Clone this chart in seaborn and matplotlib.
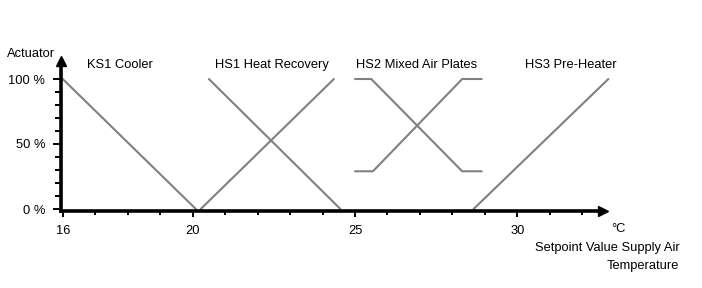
import matplotlib
matplotlib.use("Agg")
import matplotlib.pyplot as plt
import seaborn as sns
import pandas as pd
import numpy as np

# ---- data ----
ks1_x = [16.0, 20.1]
ks1_y = [100, 0]
hs1_rise_x = [20.25, 24.35]
hs1_rise_y = [0, 100]
hs1_fall_x = [20.5, 24.55]
hs1_fall_y = [100, 0]
hs2_fall_x = [25.0, 25.5, 28.3, 28.9]
hs2_fall_y = [100, 100, 29, 29]
hs2_rise_x = [25.0, 25.55, 28.3, 28.9]
hs2_rise_y = [29, 29, 100, 100]
hs3_x = [28.65, 32.8]
hs3_y = [0, 100]

x_major = [16, 20, 25, 30]
x_major_labels = ["16", "20", "25", "30"]
x_minor = list(range(17, 33))
y_major = [0, 50, 100]
y_major_labels = ["0 %", "50 %", "100 %"]
y_minor = [10, 20, 30, 40, 60, 70, 80, 90]

series_names = ["KS1 Cooler", "HS1 Heat Recovery", "HS2 Mixed Air Plates", "HS3 Pre-Heater"]

segments = {
    "ks1": (ks1_x, ks1_y),
    "hs1_rise": (hs1_rise_x, hs1_rise_y),
    "hs1_fall": (hs1_fall_x, hs1_fall_y),
    "hs2_fall": (hs2_fall_x, hs2_fall_y),
    "hs2_rise": (hs2_rise_x, hs2_rise_y),
    "hs3": (hs3_x, hs3_y),
}
rows = []
for name, (xs, ys) in segments.items():
    for i, (xv, yv) in enumerate(zip(xs, ys)):
        rows.append({"seg": name, "order": i, "x": xv, "y": yv})
df = pd.DataFrame(rows)

# ---- style ----
sns.set_theme(style="white")
plt.rcParams["font.family"] = ["Liberation Sans", "DejaVu Sans"]
FS = 9.3

W, H = 702, 288
fig = plt.figure(figsize=(W / 100, H / 100), dpi=100)

# pixel layout
px_per_x = 32.48
x16_px = 62.7
y0_px = 209.0
px_per_pct = 1.30
xlim = (15.94, 33.0)
ylim = (-1.5, 118.0)
left_px = x16_px + (xlim[0] - 16) * px_per_x
right_px = x16_px + (xlim[1] - 16) * px_per_x
bottom_px = y0_px - ylim[0] * px_per_pct
top_px = y0_px - ylim[1] * px_per_pct
ax = fig.add_axes([left_px / W, (H - bottom_px) / H,
                   (right_px - left_px) / W, (bottom_px - top_px) / H])

palette = {k: "#808080" for k in segments}
sns.lineplot(data=df, x="x", y="y", hue="seg", palette=palette, sort=False,
             estimator=None, legend=False, linewidth=1.5, ax=ax)

ax.set_xlim(*xlim)
ax.set_ylim(*ylim)
ax.set_xlabel("")
ax.set_ylabel("")

for s in ["top", "right"]:
    ax.spines[s].set_visible(False)
for s in ["left", "bottom"]:
    ax.spines[s].set_linewidth(2.6)
    ax.spines[s].set_color("black")
ax.spines["bottom"].set_bounds(xlim[0], 32.5)
ax.spines["left"].set_bounds(ylim[0], 113)

# arrow heads
ax.plot([32.62], [ylim[0]], marker=">", markersize=6.8, color="black",
        clip_on=False, linestyle="none")
ax.plot([xlim[0]], [113.8], marker="^", markersize=6.8, color="black",
        clip_on=False, linestyle="none")

ax.set_xticks(x_major)
ax.set_xticklabels(x_major_labels, fontsize=FS)
ax.set_xticks(x_minor, minor=True)
ax.set_yticks(y_major)
ax.set_yticklabels(y_major_labels, fontsize=FS)
ax.set_yticks(y_minor, minor=True)
ax.tick_params(axis="x", which="major", direction="out", length=4.3, width=1.4,
               pad=5.8, bottom=True, colors="black")
ax.tick_params(axis="x", which="minor", direction="out", length=3.2, width=1.4,
               bottom=True, colors="black")
ax.tick_params(axis="y", which="major", direction="out", length=5.5, width=1.4,
               pad=5.8, left=True, colors="black")
ax.tick_params(axis="y", which="minor", direction="out", length=4.0, width=1.4,
               left=True, colors="black")

def ftext(xp, yp, s, ha="left"):
    fig.text(xp / W, 1 - yp / H, s, ha=ha, va="baseline", fontsize=FS, color="black")

ftext(6.7, 56.7, "Actuator")
ftext(87.3, 68.3, series_names[0])
ftext(215.0, 68.3, series_names[1])
ftext(356.0, 68.3, series_names[2])
ftext(525.0, 68.3, series_names[3])
ftext(611.7, 232.3, "°C")
ftext(679.3, 251.0, "Setpoint Value Supply Air", ha="right")
ftext(679.3, 269.0, "Temperature", ha="right")

fig.savefig("out.png", dpi=100, facecolor="white")
